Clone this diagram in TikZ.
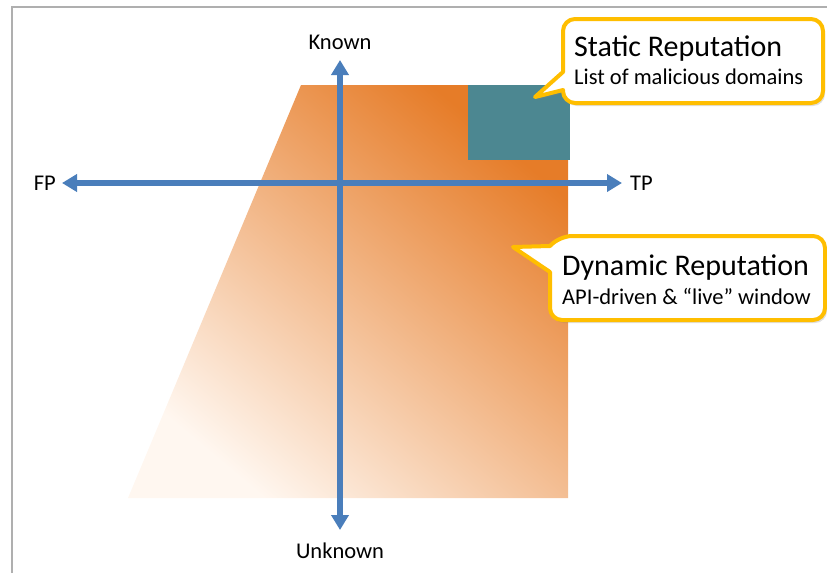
\documentclass[tikz,border=0pt]{standalone}
\usepackage{fontspec}
\setmainfont{Carlito}
\usetikzlibrary{positioning}
\usetikzlibrary{arrows.meta}
\usetikzlibrary{shadows}

\definecolor{axisblue}{RGB}{74,126,187}
\definecolor{darkorange}{RGB}{230,124,40}
\definecolor{midorange}{RGB}{243,172,114}
\definecolor{paleorange}{RGB}{255,247,240}
\definecolor{tealbox}{RGB}{76,135,145}
\definecolor{calloutgold}{RGB}{255,190,0}
\definecolor{framegray}{RGB}{175,175,175}

\tikzset{
    axisline/.style={draw=axisblue, line width=5.5pt,
        {Triangle[length=15pt,width=17pt]}-{Triangle[length=15pt,width=17pt]}},
    axislabel/.style={inner sep=0pt, font=\fontsize{22.5}{26}\selectfont},
    callout/.style={draw=calloutgold, line width=4pt, fill=white, line join=round,
        drop shadow={shadow xshift=2pt, shadow yshift=-3pt, opacity=0.25}},
    callouttitle/.style={anchor=base west, inner sep=0pt, font=\fontsize{30}{36}\selectfont},
    calloutsub/.style={anchor=base west, inner sep=0pt, font=\fontsize{22.5}{26}\selectfont},
}

\begin{document}
\begin{tikzpicture}[x=1pt, y=-1pt]
    \useasboundingbox (0,0) rectangle (827,573);

    % frame
    \draw[framegray, line width=2pt] (12,573) -- (12,7) -- (827,7);

    % reputation area
    \shade[top color=darkorange, middle color=midorange, bottom color=paleorange, shading angle=-40]
        (301,85) -- (568,85) -- (568,498) -- (128,498) -- cycle;
    \fill[tealbox] (468,85) rectangle (570,160);

    % axes
    \coordinate (north) at (340,60);
    \coordinate (south) at (340,530);
    \coordinate (west) at (62,183);
    \coordinate (east) at (622,183);

    \node[axislabel, above=10pt of north] (known) {Known};
    \node[axislabel, below=13pt of south] (unknown) {Unknown};
    \node[axislabel, left=6pt of west] (fp) {FP};
    \node[axislabel, right=8pt of east] (tp) {TP};

    \draw[axisline] (south) -- (north);
    \draw[axisline] (west) -- (east);

    % callouts
    \draw[callout] (563,72) [rounded corners=12pt] -- (563,19) -- (823,19) -- (823,103) -- (563,103)
        [sharp corners] -- (563,90) -- (535,97) -- cycle;
    \node[callouttitle] (static) at (574,56) {Static Reputation};
    \node[calloutsub] (staticsub) at (574,84) {List of malicious domains};

    \draw[callout] (550,272) [rounded corners=12pt] -- (550,320) -- (825,320) -- (825,236) -- (560,236)
        [sharp corners] -- (550,246) -- (513,247) -- cycle;
    \node[callouttitle] (dynamic) at (562,275) {Dynamic Reputation};
    \node[calloutsub] (dynamicsub) at (562,304) {API-driven \& “live” window};
\end{tikzpicture}
\end{document}
